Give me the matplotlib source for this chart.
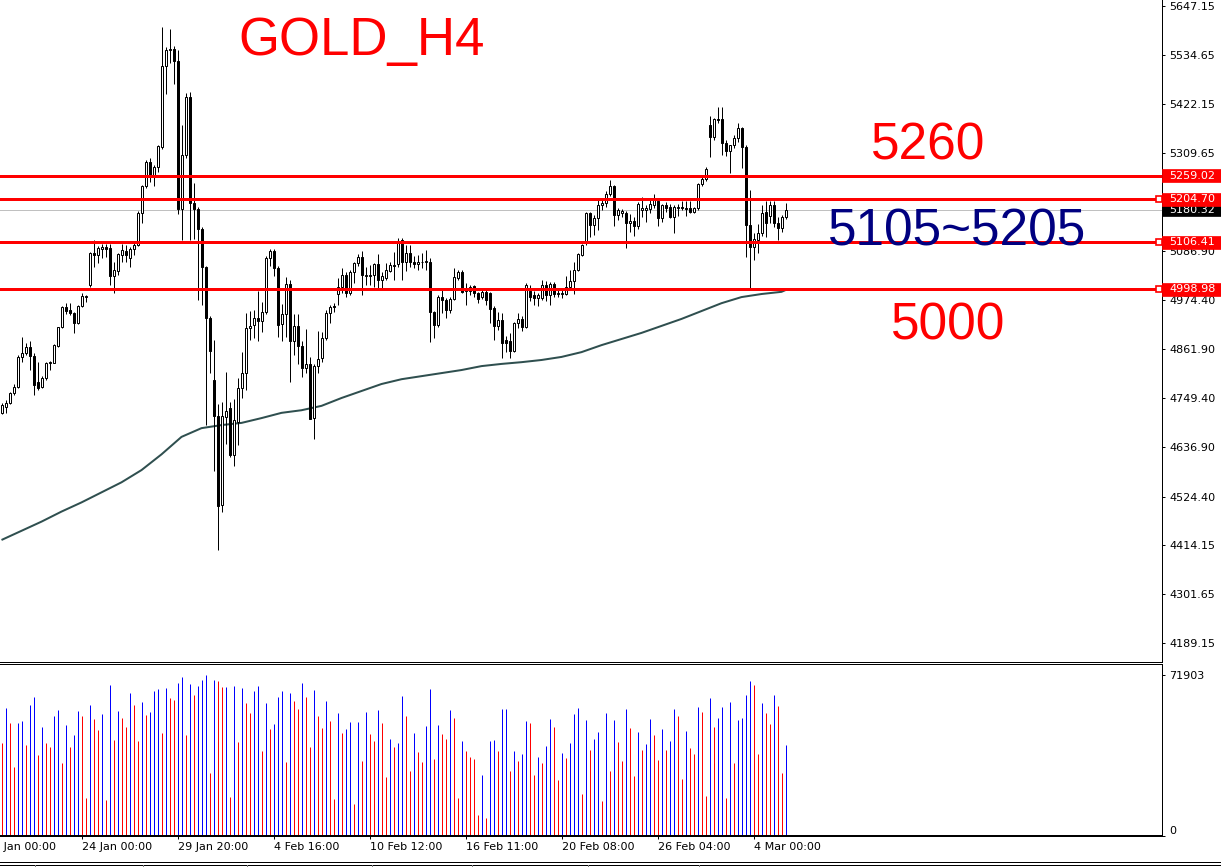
import matplotlib
matplotlib.use("Agg")
import matplotlib.pyplot as plt
import matplotlib.transforms as mtrans
from matplotlib.patches import Rectangle
from matplotlib.lines import Line2D
import numpy as np

# ---------------- data ----------------
opens = [
    4716, 4729, 4738, 4761, 4775, 4844, 4853, 4867, 4846, 4787,
    4775, 4796, 4830, 4830, 4869, 4913, 4958, 4951, 4945, 4922,
    4961, 4981, 5009, 5082, 5077, 5091, 5096, 5093, 5029, 5041,
    5077, 5086, 5070, 5091, 5100, 5173, 5235, 5290, 5260, 5279,
    5325, 5510, 5547, 5549, 5521, 5183, 5306, 5439, 5196, 5183,
    5137, 5050, 4933, 4791, 4709, 4505, 4706, 4727, 4620, 4695,
    4773, 4807, 4910, 4917, 4933, 4926, 4947, 5070, 5086, 5048,
    4919, 4942, 5011, 4880, 4915, 4869, 4819, 4828, 4704, 4823,
    4842, 4887, 4945, 4961, 4988, 5004, 5032, 4990, 5038, 5059,
    5073, 5029, 5029, 5032, 5057, 5020, 5025, 5041, 5054, 5057,
    5112, 5061, 5082, 5061, 5057, 5061, 5062, 5061, 4947, 4917,
    4981, 4974, 4951, 4977, 5025, 5038, 4995, 4995, 5006, 4990,
    4981, 4993, 4990, 4956, 4915, 4928, 4883, 4880, 4858, 4922,
    4931, 4913, 4995, 4986, 4979, 4979, 5009, 4986, 5011, 4988,
    4988, 4988, 5004, 5018, 5043, 5077, 5105, 5173, 5146, 5162,
    5192, 5196, 5217, 5235, 5169, 5173, 5173, 5151, 5155, 5144,
    5180, 5180, 5183, 5192, 5201, 5162, 5192, 5187, 5164, 5185,
    5187, 5185, 5185, 5176, 5185, 5240, 5251, 5375, 5347, 5389,
    5389, 5334, 5315, 5329, 5345, 5368, 5325, 5146, 5096, 5112,
    5128, 5176, 5167, 5192, 5151, 5139, 5164]

closes = [
    4734, 4738, 4761, 4775, 4844, 4853, 4867, 4846, 4780, 4773,
    4796, 4830, 4832, 4871, 4913, 4958, 4949, 4945, 4922, 4961,
    4984, 4984, 5082, 5077, 5093, 5096, 5091, 5029, 5043, 5080,
    5089, 5077, 5091, 5100, 5173, 5235, 5290, 5260, 5279, 5327,
    5510, 5547, 5549, 5521, 5183, 5306, 5439, 5196, 5183, 5137,
    5050, 4933, 4858, 4709, 4503, 4709, 4720, 4620, 4700, 4773,
    4807, 4910, 4915, 4933, 4926, 4947, 5070, 5086, 5048, 4917,
    4942, 5011, 4880, 4915, 4869, 4819, 4828, 4702, 4823, 4839,
    4887, 4945, 4958, 4958, 5004, 5032, 4990, 5038, 5059, 5073,
    5032, 5032, 5032, 5057, 5020, 5029, 5043, 5054, 5052, 5107,
    5061, 5082, 5061, 5057, 5061, 5062, 5064, 4947, 4917, 4981,
    4974, 4951, 4977, 5027, 5038, 4993, 4997, 5004, 4990, 4977,
    4993, 4974, 4954, 4915, 4928, 4876, 4876, 4858, 4922, 4931,
    4913, 5009, 4981, 4979, 4986, 5009, 4986, 5011, 4988, 4990,
    4990, 5004, 5018, 5043, 5080, 5100, 5173, 5146, 5162, 5192,
    5196, 5217, 5235, 5169, 5180, 5178, 5151, 5155, 5144, 5194,
    5185, 5185, 5194, 5206, 5162, 5192, 5185, 5164, 5187, 5187,
    5185, 5183, 5176, 5185, 5240, 5251, 5274, 5347, 5389, 5386,
    5334, 5315, 5329, 5345, 5368, 5325, 5146, 5096, 5114, 5128,
    5173, 5151, 5192, 5151, 5139, 5164, 5180.32]

highs = [
    4738, 4745, 4764, 4782, 4848, 4890, 4876, 4880, 4853, 4832,
    4800, 4832, 4835, 4874, 4913, 4961, 4967, 4967, 4947, 4963,
    4990, 4986, 5084, 5112, 5098, 5102, 5102, 5102, 5061, 5082,
    5102, 5100, 5096, 5105, 5178, 5238, 5295, 5299, 5283, 5329,
    5599, 5553, 5595, 5556, 5547, 5375, 5448, 5450, 5242, 5187,
    5141, 5052, 4938, 4883, 4736, 4741, 4810, 4741, 4748, 4796,
    4855, 4945, 4949, 4951, 4995, 4970, 5075, 5091, 5091, 5052,
    4965, 5027, 5020, 4942, 4942, 4880, 4908, 4844, 4828, 4903,
    4901, 4951, 4963, 4967, 5025, 5048, 5038, 5043, 5061, 5080,
    5087, 5050, 5054, 5059, 5080, 5038, 5059, 5061, 5084, 5116,
    5116, 5100, 5100, 5075, 5077, 5082, 5089, 5070, 4949, 4986,
    4997, 4979, 4981, 5048, 5043, 5043, 5013, 5009, 5009, 4993,
    4997, 4997, 4993, 4960, 4947, 4945, 4892, 4899, 4924, 4945,
    4938, 5013, 5009, 4995, 4990, 5020, 5018, 5016, 5016, 5002,
    5002, 5029, 5043, 5061, 5082, 5102, 5176, 5176, 5169, 5203,
    5203, 5224, 5249, 5238, 5185, 5182, 5178, 5171, 5164, 5199,
    5210, 5192, 5206, 5217, 5206, 5194, 5199, 5194, 5192, 5194,
    5201, 5201, 5201, 5187, 5242, 5256, 5279, 5395, 5391, 5416,
    5416, 5341, 5329, 5352, 5379, 5370, 5329, 5226, 5128, 5148,
    5192, 5201, 5201, 5201, 5164, 5169, 5196]

lows = [
    4713, 4716, 4736, 4757, 4773, 4832, 4848, 4814, 4757, 4768,
    4773, 4791, 4814, 4830, 4867, 4910, 4942, 4940, 4899, 4919,
    4958, 4970, 5004, 5050, 5059, 5070, 5073, 5009, 4990, 5031,
    5061, 5061, 5050, 5077, 5098, 5151, 5231, 5244, 5235, 5267,
    5320, 5446, 5517, 5469, 5171, 5112, 5299, 5112, 5114, 4974,
    4963, 4688, 4807, 4583, 4402, 4489, 4645, 4615, 4594, 4642,
    4750, 4768, 4883, 4887, 4880, 4901, 4942, 5052, 5029, 4890,
    4880, 4890, 4787, 4848, 4828, 4798, 4807, 4702, 4656, 4807,
    4832, 4883, 4922, 4947, 4963, 4990, 4981, 4986, 5013, 5052,
    4986, 5009, 5009, 5004, 5002, 5002, 5020, 5038, 5020, 5050,
    5020, 5041, 5050, 5048, 5043, 5048, 5043, 4878, 4887, 4913,
    4945, 4933, 4945, 4974, 5020, 4990, 4963, 4986, 4981, 4967,
    4977, 4963, 4922, 4883, 4906, 4842, 4855, 4842, 4855, 4910,
    4903, 4910, 4972, 4963, 4961, 4974, 4972, 4963, 4981, 4981,
    4979, 4986, 4997, 4988, 5041, 5075, 5100, 5119, 5123, 5135,
    5180, 5187, 5212, 5144, 5157, 5164, 5093, 5130, 5121, 5137,
    5164, 5153, 5173, 5185, 5144, 5153, 5176, 5162, 5128, 5167,
    5180, 5167, 5173, 5173, 5180, 5235, 5247, 5302, 5341, 5379,
    5306, 5304, 5265, 5322, 5336, 5276, 5073, 5002, 5066, 5082,
    5121, 5118, 5151, 5141, 5112, 5130, 5160]

ma_index = [0, 5, 10, 15, 20, 25, 30, 35, 40, 45, 50, 55, 60, 65, 70, 75, 80,
            85, 90, 95, 100, 105, 110, 115, 120, 125, 130, 135, 140, 145, 150,
            155, 160, 165, 170, 175, 180, 185, 190, 195, 196]
ma_values = [4425, 4446, 4467, 4490, 4511, 4534, 4557, 4585, 4621, 4661, 4681,
             4688, 4693, 4704, 4716, 4722, 4732, 4750, 4766, 4782, 4793, 4800,
             4807, 4814, 4823, 4828, 4832, 4837, 4844, 4855, 4871, 4885, 4899,
             4915, 4931, 4949, 4967, 4981, 4988, 4993, 4997]

volumes = [
    41700, 57300, 50600, 31000, 50600, 51400, 40600, 58500, 62200, 36200,
    48800, 41700, 39900, 53800, 56300, 32800, 49600, 39900, 45100, 56000,
    53800, 17100, 58500, 52300, 47400, 54500, 16100, 67500, 42900, 56000,
    52900, 48800, 64000, 58500, 42600, 59900, 54000, 55400, 64900, 65700,
    46200, 66100, 61500, 60700, 68500, 71200, 45100, 67900, 63100, 67200,
    69700, 71903, 28300, 69700, 69400, 66700, 66700, 17600, 67000, 42100,
    66300, 59600, 55100, 64800, 67200, 38100, 59300, 47900, 50200, 62200,
    64900, 33200, 63700, 60500, 56900, 68500, 62200, 39900, 65400, 53800,
    48400, 60500, 51500, 16700, 55100, 46200, 47800, 51100, 14300, 51100,
    33700, 55500, 45700, 42600, 56300, 50600, 26500, 43300, 39900, 41700,
    62700, 53800, 29000, 46200, 37700, 33200, 49300, 65800, 34500, 49700,
    45700, 43300, 56300, 52900, 17100, 42600, 38100, 35400, 34500, 9500,
    27400, 8200, 42600, 42900, 38100, 56900, 56900, 29200, 38100, 33700,
    36800, 51500, 50600, 27400, 35400, 32800, 40400, 52400, 48800, 25200,
    37200, 35000, 41700, 54600, 57300, 18800, 52000, 38600, 43500, 46600,
    15800, 55100, 29200, 52000, 42100, 33700, 56700, 48100, 27000, 46600,
    38600, 41200, 52300, 45300, 34100, 47900, 38600, 42600, 56700, 53800,
    25600, 46800, 39500, 36800, 57800, 55500, 18000, 61800, 48800, 52900,
    57800, 17100, 60000, 32800, 52000, 52900, 63100, 69400, 67600, 36800,
    59600, 55100, 50200, 63100, 58200, 28100, 40800]

# 'b' = volume bar drawn blue (rising), 'r' = red (falling)
volume_dir = ("rbrrbbrbbr" "brrbbrbrbb" "rrbrrbrbrb" "rrbrrbrbbb" "rbrrbbrbrb"
              "bbrbrrbrbr" "brrbbrbrbb" "brbrrbrrbr" "rbrrbrbbrb" "rbrrbrrbrb"
              "brrbrrbbrb" "rrbrrbrrrr" "brbbrbbrbr" "bbrrbrbbrr" "brbbbrbrbb"
              "rbrbrrbrrb" "rbbrrbrbbr" "rbrrbrrbrb" "brbrbbbbrr" "brrbrrb")

price_ticks = [5647.15, 5534.65, 5422.15, 5309.65, 5197.15, 5086.90, 4974.40,
               4861.90, 4749.40, 4636.90, 4524.40, 4414.15, 4301.65, 4189.15]
level_values = [5259.02, 5204.70, 5106.41, 4998.98]
level_labels = ["5259.02", "5204.70", "5106.41", "4998.98"]
current_price = 5180.32
volume_max = 71903

time_tick_index = [-4, 20, 44, 68, 92, 116, 140, 164, 188]
time_tick_labels = ["20 Jan 00:00", "24 Jan 00:00", "29 Jan 20:00", "4 Feb 16:00",
                    "10 Feb 12:00", "16 Feb 11:00", "20 Feb 08:00",
                    "26 Feb 04:00", "4 Mar 00:00"]

title_text = "GOLD_H4"
notes = ["5260", "5105~5205", "5000"]

# ---------------- layout ----------------
W, H = 1221, 867
fig = plt.figure(figsize=(W / 100, H / 100), dpi=100)
fig.patch.set_facecolor("white")
PX = 72.0 / 100.0   # one pixel in points


def fx(px):
    return px / W


def fy(py):
    return 1 - py / H


PLOT_R = 1162
ax = fig.add_axes([0, fy(662), fx(PLOT_R), 662 / H])
axv = fig.add_axes([0, fy(836), fx(PLOT_R), (836 - 664) / H])

n = len(opens)
x = np.arange(n)
# 4 px per bar, bar centres on pixel centres
XLIM = (-1.5 / 4, (PLOT_R - 1.5) / 4)
YLIM = (4145.7, 5661.0)

o = np.array(opens, float)
c = np.array(closes, float)
hi = np.array(highs, float)
lo = np.array(lows, float)
up = c >= o

# moving average
ax.plot(ma_index, ma_values, color="#2F4F4F", lw=2 * PX, zorder=1.6,
        solid_capstyle="butt")

# current price line
ax.axhline(current_price, color="#C0C0C0", lw=PX, zorder=1.2)

# candles
ax.vlines(x, lo, hi, color="black", lw=PX, zorder=2)
ax.bar(x, np.abs(c - o), bottom=np.minimum(o, c), width=0.5,
       color=np.where(up, "white", "black"), edgecolor="black",
       linewidth=PX, zorder=3)

# horizontal levels
for v in level_values:
    ax.axhline(v, color="#FF0000", lw=3 * PX, zorder=4)

ax.set_xlim(*XLIM)
ax.set_ylim(*YLIM)
ax.set_facecolor("white")
for s in ("top", "left"):
    ax.spines[s].set_visible(False)
for s in ("right", "bottom"):
    ax.spines[s].set_color("black")
    ax.spines[s].set_linewidth(PX)
ax.yaxis.tick_right()
ax.set_yticks(price_ticks)
ax.set_yticklabels([f"{v:.2f}" for v in price_ticks])
ax.tick_params(axis="y", direction="out", length=3 * PX, width=PX, pad=3,
               labelsize=8, colors="black")
ax.tick_params(axis="x", bottom=False, labelbottom=False)

# right-side price label boxes
tr = mtrans.blended_transform_factory(ax.transAxes, ax.transData)
dpp = (YLIM[1] - YLIM[0]) / 662.0
box_h = 13 * dpp
box_w = (W - PLOT_R) / PLOT_R


def price_box(value, text, fc, z):
    ax.add_patch(Rectangle((1.0, value - box_h / 2), box_w, box_h,
                           transform=tr, facecolor=fc, edgecolor=fc,
                           lw=0.5, clip_on=False, zorder=z))
    ax.text(1.0 + 7 / PLOT_R, value, text, transform=tr, color="white",
            fontsize=8, ha="left", va="center", zorder=z + 0.5,
            clip_on=False)


price_box(current_price, f"{current_price:.2f}", "black", 9)
for i, (v, t) in enumerate(zip(level_values, level_labels)):
    price_box(v, t, "#FF0000", 10 + i)
    if i > 0:
        ax.plot([1.0 - 3 / PLOT_R], [v], transform=tr, marker="s", ms=4,
                mfc="white", mec="#FF0000", mew=1.2, clip_on=False, zorder=8)

# ---------------- volume panel ----------------
vcolors = ["#0000FF" if d == "b" else "#FF0000" for d in volume_dir]
axv.vlines(x, 0, volumes, colors=vcolors, lw=PX, zorder=2)
axv.set_xlim(*XLIM)
axv.set_ylim(0, volume_max * 172 / 161)
axv.set_facecolor("white")
axv.spines["left"].set_visible(False)
for s in ("top", "right", "bottom"):
    axv.spines[s].set_color("black")
    axv.spines[s].set_linewidth(PX)
axv.spines["bottom"].set_linewidth(2 * PX)
axv.spines["bottom"].set_linestyle((0, (1, 1)))
axv.yaxis.tick_right()
axv.set_yticks([0, volume_max])
axv.set_yticklabels(["0", str(volume_max)])
axv.get_yticklabels()[0].set_va("bottom")
axv.tick_params(axis="y", direction="out", length=3 * PX, width=PX, pad=3,
                labelsize=8, colors="black")
axv.set_xticks(time_tick_index[1:])
axv.set_xticklabels(time_tick_labels[1:], ha="left")
axv.tick_params(axis="x", direction="out", length=3 * PX, width=PX, pad=2.5,
                labelsize=8, colors="black")
axv.annotate(time_tick_labels[0], xy=(time_tick_index[0], 0),
             xycoords=("data", "axes fraction"), xytext=(0, -(3 * PX + 2.5)),
             textcoords="offset points", ha="left", va="top", fontsize=8,
             annotation_clip=False)

# window bottom border
for yy in (862, 864.5):
    fig.add_artist(Line2D([0, 1], [fy(yy), fy(yy)], color="black", lw=PX,
                          transform=fig.transFigure))
for xx in (35, 143, 247, 372, 472, 588, 699):
    fig.add_artist(Line2D([fx(xx), fx(xx)], [fy(864.5), 0], color="#808080",
                          lw=PX, transform=fig.transFigure))

# ---------------- annotations ----------------
fig.text(fx(361.5), fy(55), title_text, color="#FF0000", fontsize=38,
         family="Liberation Sans", ha="center", va="baseline")
fig.text(fx(928.5), fy(160), notes[0], color="#FF0000", fontsize=37,
         family="Liberation Sans", ha="center", va="baseline")
fig.text(fx(957), fy(245), notes[1], color="#000080", fontsize=37,
         family="Liberation Sans", ha="center", va="baseline")
fig.text(fx(948.5), fy(340), notes[2], color="#FF0000", fontsize=37,
         family="Liberation Sans", ha="center", va="baseline")

fig.savefig("out.png", dpi=100, facecolor="white")
